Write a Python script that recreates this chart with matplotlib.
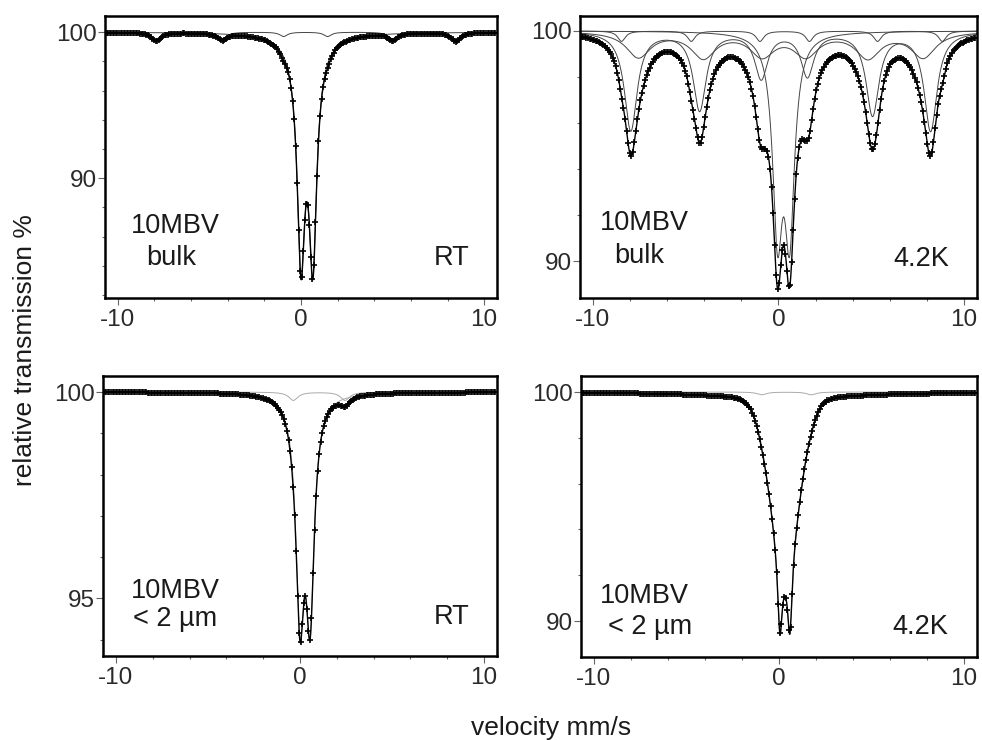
import numpy as np
import matplotlib
matplotlib.use('Agg')
import matplotlib.pyplot as plt
from matplotlib.ticker import MultipleLocator, FixedLocator

plt.rcParams['font.family'] = ['Liberation Sans', 'DejaVu Sans']
plt.rcParams['axes.unicode_minus'] = False

# velocity channels of the folded spectra (mm/s)
velocity = np.linspace(-10.6, 10.6, 256)
v_fit = np.linspace(-10.7, 10.7, 2000)

# fitted subspectra: line position, depth (%), half width, shape, subspectrum
# 10MBV bulk, RT
bulk_rt_pos = [-7.90, -4.30, -0.95, 1.45, 5.00, 8.45, 0.00, 0.65, 0.33]
bulk_rt_depth = [0.60, 0.45, 0.30, 0.30, 0.45, 0.60, 14.0, 14.0, 1.2]
bulk_rt_hwhm = [0.30, 0.30, 0.25, 0.25, 0.30, 0.30, 0.25, 0.25, 1.0]
bulk_rt_shape = ['L'] * 9
bulk_rt_group = [0, 0, 0, 0, 0, 0, 1, 1, 1]

# 10MBV bulk, 4.2K
bulk_lt_pos = [-7.96, -4.25, -0.93, 1.56, 5.07, 8.20,
               -7.55, -4.05, -0.88, 1.48, 4.82, 7.80,
               -8.46, -4.70, -1.00, 1.67, 5.34, 8.83,
               -0.05, 0.60]
bulk_lt_depth = [4.30, 3.40, 2.00, 1.90, 3.60, 4.30,
                 1.10, 1.10, 1.00, 1.00, 1.10, 1.10,
                 0.45, 0.45, 0.45, 0.45, 0.45, 0.45,
                 8.20, 8.20]
bulk_lt_hwhm = [0.42] * 6 + [0.8] * 6 + [0.25] * 6 + [0.32, 0.32]
bulk_lt_shape = ['L'] * 20
bulk_lt_group = [0] * 6 + [1] * 6 + [2] * 6 + [3, 3]

# 10MBV < 2 um, RT
fine_rt_pos = [0.00, 0.55, -0.36, 2.45]
fine_rt_depth = [5.0, 5.0, 0.2, 0.2]
fine_rt_hwhm = [0.27, 0.27, 0.3, 0.3]
fine_rt_shape = ['L', 'L', 'L', 'L']
fine_rt_group = [0, 0, 1, 1]

# 10MBV < 2 um, 4.2K
fine_lt_pos = [0.05, 0.59, 0.32, 0.30, -0.93, 1.75]
fine_lt_depth = [3.4, 3.4, 7.0, 0.3, 0.12, 0.12]
fine_lt_hwhm = [0.15, 0.15, 0.93, 4.0, 0.3, 0.3]
fine_lt_shape = ['L', 'L', 'G', 'L', 'L', 'L']
fine_lt_group = [0, 0, 0, 0, 1, 1]


def absorption(v, pos, depth, hwhm, shape):
    if shape == 'G':
        return depth * np.exp(-np.log(2) * ((v - pos) / hwhm) ** 2)
    return depth * hwhm ** 2 / ((v - pos) ** 2 + hwhm ** 2)


def draw_panel(ax, pos, depth, hwhm, shape, group, comp_color):
    points = np.full_like(velocity, 100.0)
    fit = np.full_like(v_fit, 100.0)
    comps = {}
    for p, d, w, s, g in zip(pos, depth, hwhm, shape, group):
        points -= absorption(velocity, p, d, w, s)
        a = absorption(v_fit, p, d, w, s)
        fit -= a
        comps[g] = comps.get(g, 0) + a
    for g, a in comps.items():
        ax.plot(v_fit, 100 - a, color=comp_color, lw=0.7)
    ax.plot(v_fit, fit, color='black', lw=1.0)
    ax.plot(velocity, points, ls='none', marker='+', ms=5, mew=1.2, color='black')


def style_axes(ax, ylim, yticks, yminor):
    ax.set_xlim(-10.7, 10.7)
    ax.set_ylim(*ylim)
    ax.xaxis.set_major_locator(FixedLocator([-10, 0, 10]))
    ax.xaxis.set_minor_locator(MultipleLocator(2))
    ax.yaxis.set_major_locator(FixedLocator(yticks))
    ax.yaxis.set_minor_locator(MultipleLocator(yminor))
    ax.tick_params(which='both', direction='out', color='#666666', width=0.8,
                   labelcolor='#2a2a2a', labelsize=17.5)
    ax.tick_params(which='major', length=5)
    ax.tick_params(which='minor', length=2.5)
    ax.tick_params(axis='y', pad=1)
    ax.tick_params(axis='x', pad=3)
    for s in ax.spines.values():
        s.set_linewidth(1.8)


fig = plt.figure(figsize=(9.82, 7.40), dpi=100)

ax1 = fig.add_axes([0.1069, 0.5973, 0.3992, 0.3811])
ax2 = fig.add_axes([0.5906, 0.5973, 0.4043, 0.3811])
ax3 = fig.add_axes([0.1049, 0.1135, 0.4012, 0.3784])
ax4 = fig.add_axes([0.5916, 0.1122, 0.4033, 0.3797])

draw_panel(ax1, bulk_rt_pos, bulk_rt_depth, bulk_rt_hwhm, bulk_rt_shape, bulk_rt_group, '#444444')
draw_panel(ax2, bulk_lt_pos, bulk_lt_depth, bulk_lt_hwhm, bulk_lt_shape, bulk_lt_group, '#444444')
draw_panel(ax3, fine_rt_pos, fine_rt_depth, fine_rt_hwhm, fine_rt_shape, fine_rt_group, '#aaaaaa')
draw_panel(ax4, fine_lt_pos, fine_lt_depth, fine_lt_hwhm, fine_lt_shape, fine_lt_group, '#aaaaaa')

style_axes(ax1, (81.8, 101.1), [90, 100], 2)
style_axes(ax2, (88.4, 100.65), [90, 100], 2)
style_axes(ax3, (93.6, 100.39), [95, 100], 1)
style_axes(ax4, (88.43, 100.7), [90, 100], 2)

txt = dict(fontsize=19.5, color='#1a1a1a', ha='center', va='center')
ax1.text(0.179, 0.255, '10MBV', transform=ax1.transAxes, **txt)
ax1.text(0.168, 0.142, 'bulk', transform=ax1.transAxes, **txt)
ax1.text(0.885, 0.142, 'RT', transform=ax1.transAxes, **txt)

ax2.text(0.161, 0.266, '10MBV', transform=ax2.transAxes, **txt)
ax2.text(0.149, 0.149, 'bulk', transform=ax2.transAxes, **txt)
ax2.text(0.859, 0.138, '4.2K', transform=ax2.transAxes, **txt)

ax3.text(0.184, 0.232, '10MBV', transform=ax3.transAxes, **txt)
ax3.text(0.183, 0.132, '< 2 µm', transform=ax3.transAxes, **txt)
ax3.text(0.886, 0.139, 'RT', transform=ax3.transAxes, **txt)

ax4.text(0.159, 0.217, '10MBV', transform=ax4.transAxes, **txt)
ax4.text(0.174, 0.107, '< 2 µm', transform=ax4.transAxes, **txt)
ax4.text(0.856, 0.107, '4.2K', transform=ax4.transAxes, **txt)

fig.text(0.025, 0.527, 'relative transmission %', rotation=90, ha='center', va='center',
         fontsize=19, color='#1a1a1a')
fig.text(0.561, 0.016, 'velocity mm/s', ha='center', va='center', fontsize=19, color='#1a1a1a')

fig.savefig('out.png', dpi=100)
